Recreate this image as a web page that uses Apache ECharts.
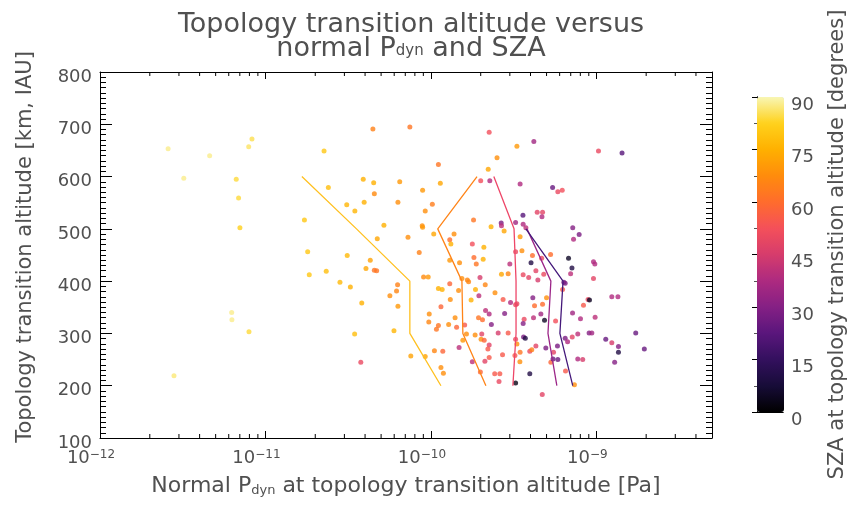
<!DOCTYPE html>
<html>
<head>
<meta charset="utf-8">
<script src="https://cdn.jsdelivr.net/npm/echarts@6/dist/echarts.min.js"></script>
<style>html,body{margin:0;padding:0;background:#fff}#main{width:851px;height:508px}</style>
</head>
<body>
<div id="main"></div>
<script>
// normal Pdyn [Pa], altitude [km], SZA [deg] of each event
var pdyn = [
  4.46e-11, 7.46e-11, 8.29e-12, 7.92e-12, 2.58e-12, 4.60e-12, 2.26e-11, 3.21e-12, 6.66e-12, 3.90e-11,
  4.51e-11, 6.48e-11, 8.91e-11, 2.40e-11, 4.55e-11, 6.88e-12, 3.10e-11, 3.95e-11, 6.32e-11, 3.47e-11,
  9.24e-11, 1.72e-11, 7.01e-12, 5.20e-11, 8.86e-11, 8.91e-11, 4.74e-11, 7.27e-11, 1.80e-11, 3.12e-11,
  8.50e-11, 4.30e-11, 1.84e-11, 2.33e-11, 4.05e-11, 4.55e-11, 4.70e-11, 9.03e-11, 9.63e-11, 2.82e-11,
  3.26e-11, 6.29e-11, 6.20e-11, 5.65e-11, 6.32e-11, 3.82e-11, 6.25e-12, 6.27e-12, 7.95e-12, 3.46e-11,
  5.98e-11, 9.77e-11, 9.71e-11, 3.77e-11, 7.56e-11, 9.24e-11, 2.80e-12,
  2.25e-10, 4.19e-10, 3.31e-10, 1.03e-9, 1.43e-9, 2.51e-10, 1.11e-10, 2.22e-10, 2.00e-10, 2.27e-10,
  1.14e-10, 3.46e-10, 5.44e-10, 5.85e-10, 6.22e-10, 1.02e-10, 4.39e-10, 4.73e-10, 4.69e-10, 3.60e-10,
  2.66e-10, 2.67e-10, 3.25e-10, 3.61e-10, 3.75e-10, 1.81e-10, 2.31e-10, 2.77e-10, 1.04e-10, 7.20e-10,
  7.87e-10, 7.28e-10, 3.46e-10, 1.30e-10, 1.38e-10, 1.32e-10, 1.78e-10, 2.09e-10, 3.25e-10, 3.55e-10,
  4.11e-10, 5.29e-10, 6.79e-10, 1.82e-10, 2.07e-10, 1.30e-10, 1.49e-10, 1.88e-10, 4.03e-10, 4.67e-10,
  7.12e-10, 9.61e-10, 9.79e-10, 3.00e-10, 4.31e-10, 4.81e-10, 6.99e-10, 3.61e-10, 3.90e-10, 4.43e-10,
  1.98e-10, 2.67e-10, 2.93e-10, 1.54e-10, 1.66e-10, 1.69e-10, 6.48e-10, 6.36e-10, 9.61e-10, 1.30e-10,
  1.11e-10, 1.17e-10, 1.47e-10, 1.86e-10, 2.13e-10, 2.44e-10, 1.95e-10, 1.31e-10, 1.75e-10, 2.73e-10,
  4.13e-10, 5.00e-10, 6.25e-10, 8.91e-10, 9.09e-10,
  3.03e-10, 3.31e-10, 3.25e-10, 4.73e-10, 4.23e-10, 8.36e-10, 1.24e-9, 1.35e-9, 7.18e-10, 9.83e-10,
  8.02e-10, 4.62e-10, 4.17e-10, 3.66e-10, 3.61e-10, 4.86e-10, 5.67e-10, 2.79e-10, 2.25e-10, 2.14e-10,
  1.94e-10, 2.05e-10, 2.32e-10, 2.55e-10, 2.93e-10, 2.03e-10, 2.01e-10, 2.10e-10, 2.25e-10, 2.21e-10,
  2.25e-10, 2.12e-10, 1.78e-10, 1.48e-10, 1.99e-10, 2.43e-10, 2.61e-10, 2.58e-10, 3.25e-10, 3.63e-10,
  3.72e-10, 3.25e-10, 3.31e-10, 3.46e-10, 3.22e-10, 3.45e-10, 2.71e-10, 3.96e-10, 4.07e-10, 4.31e-10,
  3.96e-10, 4.95e-10, 5.51e-10, 5.31e-10, 5.47e-10, 5.82e-10, 5.85e-10, 6.48e-10, 6.70e-10, 7.15e-10,
  7.72e-10, 9.04e-10, 9.39e-10, 1.14e-9, 1.24e-9, 1.36e-9, 1.36e-9, 7.72e-10, 8.27e-10, 1.29e-9,
  1.73e-9, 1.95e-9, 6.51e-10, 7.37e-10, 4.71e-10, 1.05e-10, 1.18e-10, 1.15e-10, 1.19e-10, 1.11e-10,
  1.08e-10, 1.28e-10, 1.40e-10, 1.43e-10, 1.60e-10, 1.64e-10, 1.56e-10, 1.85e-10, 1.15e-10
];
var alt = [
  691, 695, 672, 657, 653, 640, 649, 597, 595, 595,
  588, 590, 574, 579, 567, 559, 546, 551, 551, 534,
  534, 517, 502, 507, 506, 503, 481, 484, 456, 449,
  455, 440, 412, 419, 424, 421, 420, 408, 408, 398,
  389, 393, 381, 372, 352, 358, 340, 326, 303, 299,
  305, 337, 322, 245, 257, 256, 219,
  685, 667, 658, 649, 645, 636, 623, 614, 592, 592,
  587, 586, 579, 571, 574, 547, 532, 532, 523, 526,
  511, 506, 512, 509, 502, 517, 504, 496, 490, 502,
  489, 480, 485, 479, 490, 471, 471, 465, 456, 458,
  449, 451, 444, 445, 442, 440, 435, 433, 435, 444,
  425, 437, 433, 433, 420, 413, 414, 412, 407, 402,
  407, 413, 414, 405, 402, 399, 396, 398, 405, 395,
  386, 384, 382, 384, 393, 378, 372, 365, 364, 365,
  368, 368, 384, 365, 364,
  359, 357, 355, 356, 353, 354, 370, 370, 339, 331,
  328, 337, 330, 327, 319, 325, 324, 338, 337, 344,
  330, 326, 317, 301, 301, 299, 289, 287, 278, 270,
  254, 247, 246, 273, 226, 223, 223, 208, 205, 293,
  291, 289, 280, 264, 258, 246, 259, 266, 269, 276,
  223, 272, 264, 245, 251, 276, 250, 291, 284, 293,
  299, 301, 301, 289, 282, 275, 264, 251, 250, 245,
  301, 270, 228, 202, 183, 267, 266, 235, 224, 315,
  308, 317, 330, 312, 316, 299, 287, 297, 351
];
var sza = [
  65, 62, 85, 86, 88, 88, 80, 88, 84, 75,
  75, 70, 70, 78, 67, 84, 76, 75, 68, 76,
  68, 80, 82, 75, 68, 70, 73, 68, 80, 77,
  65, 72, 80, 78, 73, 62, 62, 67, 70, 77,
  75, 65, 66, 68, 70, 75, 88, 88, 84, 78,
  76, 68, 66, 50, 72, 72, 87,
  52, 35, 70, 50, 22, 68, 62, 73, 52, 38,
  73, 38, 25, 50, 52, 64, 48, 48, 38, 22,
  28, 40, 35, 38, 40, 62, 75, 73, 73, 30,
  28, 38, 70, 60, 68, 75, 52, 75, 50, 68,
  60, 60, 5, 60, 75, 70, 68, 62, 10, 50,
  10, 38, 38, 40, 48, 50, 40, 50, 48, 45,
  45, 73, 66, 68, 66, 66, 28, 28, 48, 58,
  75, 75, 68, 75, 66, 68, 40, 68, 75, 55,
  30, 68, 55, 50, 5,
  38, 50, 50, 60, 60, 55, 38, 38, 35, 40,
  38, 35, 40, 50, 30, 5, 52, 30, 38, 40,
  62, 60, 30, 45, 55, 48, 68, 58, 48, 55,
  55, 48, 40, 40, 58, 55, 55, 50, 3, 28,
  10, 50, 68, 62, 55, 68, 55, 50, 65, 48,
  10, 28, 48, 58, 25, 28, 25, 28, 38, 48,
  40, 30, 35, 25, 45, 30, 10, 38, 45, 30,
  25, 25, 55, 68, 48, 66, 58, 68, 68, 62,
  62, 68, 68, 58, 55, 68, 70, 68, 58
];

// median curves per SZA bin
var curveAlt5 = [200, 300, 400, 500, 600];
var curveAlt4 = [200, 300, 400, 500];
var curve80 = [1.15e-10, 7.46e-11, 7.46e-11, 3.55e-11, 1.66e-11];
var curve65 = [2.15e-10, 1.56e-10, 1.54e-10, 1.10e-10, 1.90e-10];
var curve50 = [3.13e-10, 3.27e-10, 3.27e-10, 3.18e-10, 2.40e-10];
var curve35 = [5.77e-10, 5.10e-10, 5.31e-10, 3.81e-10];
var curve20 = [7.20e-10, 6.02e-10, 6.29e-10, 3.75e-10];

var cmap = ['#000000', '#170c38', '#33105e', '#5a167c', '#852084', '#ad2a80', '#d63c6c',
            '#f4505a', '#ff6c2c', '#ff8c0c', '#ffb000', '#ffd21c', '#f8f6b4'];

var FONT = 'DejaVu Sans';
var TXT = '#505050';

var myChart = echarts.init(document.getElementById('main'));

var points = [];
for (var i = 0; i < pdyn.length; i++) points.push([pdyn[i], alt[i], sza[i]]);

function curve(xs, ys) {
    var d = [];
    for (var i = 0; i < xs.length; i++) d.push([xs[i], ys[i]]);
    return d;
}

// minor tick positions for the log axis (2..9 in each decade)
var minorVals = [];
for (var e = -12; e <= -9; e++) {
    for (var m = 2; m <= 9; m++) {
        var v = m * Math.pow(10, e);
        if (v < 5e-9) minorVals.push([v, 450]);
    }
}

function isPow10(v) {
    var l = Math.log10(v);
    return Math.abs(l - Math.round(l)) < 1e-6;
}

function txt(size, lh, extra) {
    var s = { fontFamily: FONT, fontWeight: 'normal', fontSize: size, lineHeight: lh, color: TXT };
    for (var k in extra) s[k] = extra[k];
    return s;
}

var option = {
    backgroundColor: '#fff',
    animation: false,
    textStyle: { fontFamily: FONT, fontWeight: 'normal', color: TXT },
    title: {
        left: 406, top: 6, textAlign: 'center',
        text: '{t|Topology transition altitude versus}\n{t|normal P}{s|dyn}{t| and SZA}',
        textStyle: {
            fontWeight: 'normal',
            rich: {
                t: txt(27, 24, { verticalAlign: 'top' }),
                s: txt(15, 15, { verticalAlign: 'bottom', padding: [12, 0, 0, 0] })
            }
        }
    },
    grid: [
        { left: 100, top: 72, width: 612, height: 366 },
        { left: 757, top: 97, width: 27, height: 315 }
    ],
    visualMap: {
        type: 'continuous', min: 0, max: 90, dimension: 2, seriesIndex: 0,
        left: 757, top: 97, itemWidth: 27, itemHeight: 315, padding: 0,
        calculable: false, hoverLink: false, text: null, showLabel: false,
        inRange: { color: cmap }
    },
    xAxis: [
        {
            type: 'log', logBase: 10, min: 1e-12, max: 5e-9, gridIndex: 0, position: 'bottom',
            axisLine: { show: true, lineStyle: { color: '#000', width: 1 } },
            axisTick: { show: true, inside: true, length: 7, lineStyle: { color: '#000', width: 1 } },
            splitLine: { show: false },
            axisLabel: {
                margin: 11, padding: [0, 18, 0, 0],
                formatter: function (v) {
                    if (!isPow10(v)) return '';
                    var e = Math.round(Math.log10(v));
                    return '{b|10}{s|\u2212' + Math.abs(e) + '}';
                },
                rich: {
                    b: txt(18, 18, { verticalAlign: 'bottom', padding: [4, 0, 0, 0] }),
                    s: txt(12, 12, { verticalAlign: 'top' })
                }
            },
            name: '{t|Normal P}{s|dyn}{t| at topology transition altitude [Pa]}',
            nameLocation: 'middle', nameGap: 33,
            nameTextStyle: {
                verticalAlign: 'top',
                rich: {
                    t: txt(22, 22, { verticalAlign: 'top' }),
                    s: txt(13, 14, { verticalAlign: 'bottom', padding: [12, 0, 0, 0] })
                }
            }
        },
        {
            type: 'log', logBase: 10, min: 1e-12, max: 5e-9, gridIndex: 0, position: 'top',
            axisLine: { show: true, lineStyle: { color: '#000', width: 1 } },
            axisTick: { show: true, inside: true, length: 7, lineStyle: { color: '#000', width: 1 } },
            axisLabel: { show: false },
            splitLine: { show: false }
        },
        {
            type: 'value', min: 0, max: 1, gridIndex: 1, position: 'bottom',
            axisLine: { show: true, lineStyle: { color: '#000' } },
            axisTick: { show: false }, axisLabel: { show: false }, splitLine: { show: false }
        },
        {
            type: 'value', min: 0, max: 1, gridIndex: 1, position: 'top',
            axisLine: { show: true, lineStyle: { color: '#000' } },
            axisTick: { show: false }, axisLabel: { show: false }, splitLine: { show: false }
        }
    ],
    yAxis: [
        {
            type: 'value', min: 100, max: 800, interval: 100, gridIndex: 0, position: 'left',
            axisLine: { show: true, lineStyle: { color: '#000', width: 1 } },
            axisTick: { show: true, inside: true, length: 12, lineStyle: { color: '#000', width: 1 } },
            minorTick: { show: true, splitNumber: 10, length: 6, lineStyle: { color: '#000', width: 1 } },
            splitLine: { show: false },
            axisLabel: txt(18, 10, { margin: 8, verticalAlign: 'top' }),
            name: 'Topology transition altitude [km, IAU]',
            nameLocation: 'middle', nameGap: 62, nameRotate: 90,
            nameTextStyle: txt(21, 24, { padding: [0, 0, 0, 16] })
        },
        {
            type: 'value', min: 100, max: 800, interval: 100, gridIndex: 0, position: 'right',
            axisLine: { show: true, lineStyle: { color: '#000', width: 1 } },
            axisTick: { show: true, inside: true, length: 12, lineStyle: { color: '#000', width: 1 } },
            minorTick: { show: true, splitNumber: 10, length: 6, lineStyle: { color: '#000', width: 1 } },
            splitLine: { show: false },
            axisLabel: { show: false }
        },
        {
            type: 'value', min: 0, max: 90, interval: 15, gridIndex: 1, position: 'right',
            axisLine: { show: true, lineStyle: { color: '#000' } },
            axisTick: { show: true, inside: true, length: 5, lineStyle: { color: '#000', width: 1 } },
            splitLine: { show: false },
            axisLabel: txt(18, 16, { margin: 8, verticalAlign: 'top' }),
            name: 'SZA at topology transition altitude [degrees]',
            nameLocation: 'middle', nameGap: 43, nameRotate: 90,
            nameTextStyle: txt(21, 24, { padding: [0, 0, 0, 20] })
        },
        {
            type: 'value', min: 0, max: 90, interval: 15, gridIndex: 1, position: 'left',
            axisLine: { show: true, lineStyle: { color: '#000' } },
            axisTick: { show: false },
            minorTick: { show: true, splitNumber: 2, length: 3, lineStyle: { color: '#555' } },
            splitLine: { show: false },
            axisLabel: { show: false }
        }
    ],
    series: [
        {
            type: 'scatter', xAxisIndex: 0, yAxisIndex: 0,
            symbolSize: 5, data: points, z: 3
        },
        {
            type: 'custom', xAxisIndex: 0, yAxisIndex: 0, silent: true, clip: false, z: 6,
            data: minorVals,
            renderItem: function (params, api) {
                var p = api.coord([api.value(0), api.value(1)]);
                var cs = params.coordSys;
                var yb = cs.y + cs.height, yt = cs.y;
                return {
                    type: 'group',
                    children: [
                        { type: 'line', shape: { x1: p[0], y1: yb, x2: p[0], y2: yb - 4 }, style: { stroke: '#000', lineWidth: 1 } },
                        { type: 'line', shape: { x1: p[0], y1: yt, x2: p[0], y2: yt + 4 }, style: { stroke: '#000', lineWidth: 1 } }
                    ]
                };
            }
        },
        { type: 'line', data: curve(curve80, curveAlt5), showSymbol: false, z: 5, lineStyle: { color: '#ffc020', width: 1.3 }, itemStyle: { color: '#ffc020' } },
        { type: 'line', data: curve(curve65, curveAlt5), showSymbol: false, z: 5, lineStyle: { color: '#ff8418', width: 1.3 }, itemStyle: { color: '#ff8418' } },
        { type: 'line', data: curve(curve50, curveAlt5), showSymbol: false, z: 5, lineStyle: { color: '#ee4668', width: 1.3 }, itemStyle: { color: '#ee4668' } },
        { type: 'line', data: curve(curve35, curveAlt4), showSymbol: false, z: 5, lineStyle: { color: '#9c2688', width: 1.3 }, itemStyle: { color: '#9c2688' } },
        { type: 'line', data: curve(curve20, curveAlt4), showSymbol: false, z: 5, lineStyle: { color: '#44187a', width: 1.3 }, itemStyle: { color: '#44187a' } }
    ]
};

myChart.setOption(option);
</script>
</body>
</html>
